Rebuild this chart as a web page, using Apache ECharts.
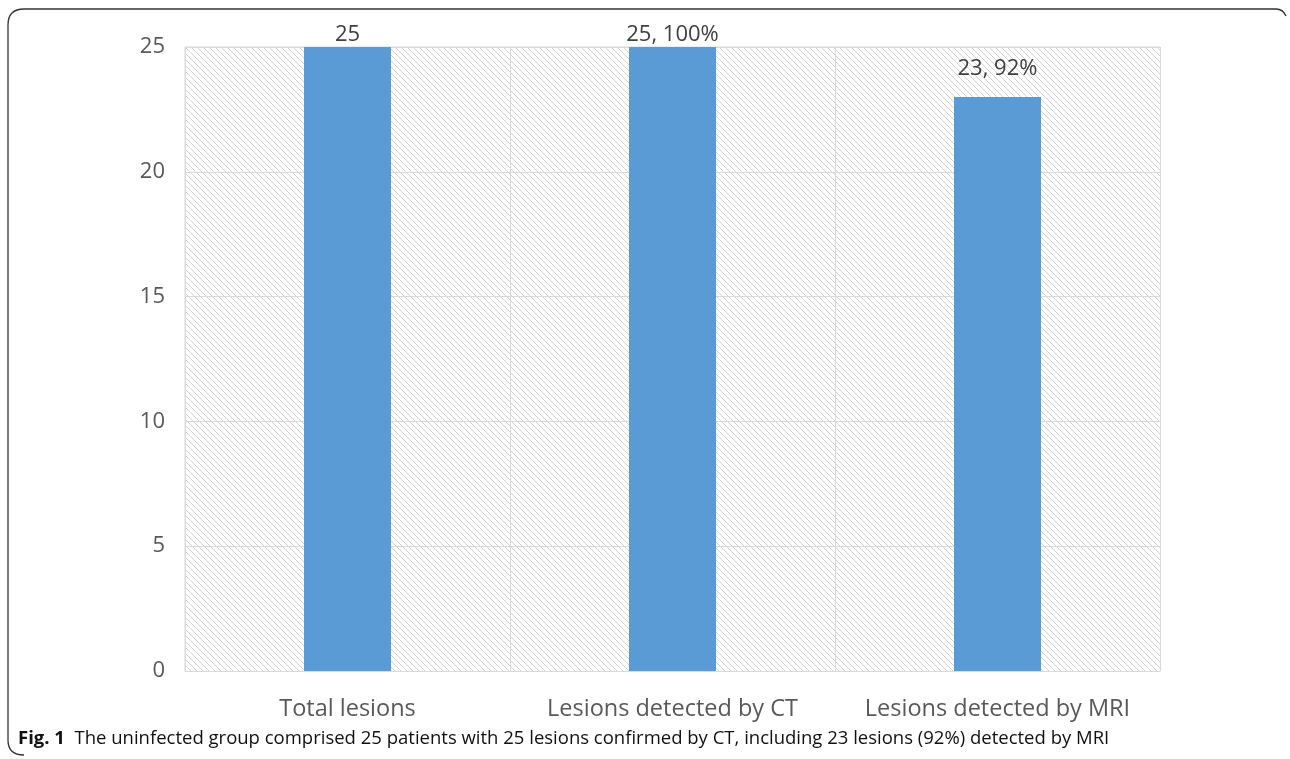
<!DOCTYPE html>
<html><head><meta charset="utf-8">
<script src="https://cdn.jsdelivr.net/npm/echarts@6/dist/echarts.min.js"></script>
<style>html,body{margin:0;padding:0;background:#fff}#c{width:1290px;height:759px}</style>
</head><body><div id="c"></div>
<script>
const categories = ["Total lesions", "Lesions detected by CT", "Lesions detected by MRI"];
const values = [25, 25, 23];
const barLabels = ["25", "25, 100%", "23, 92%"];
const labelGaps = [1, 1, 17];
const yTicks = [0, 5, 10, 15, 20, 25];

// hatch pattern
const pc = document.createElement('canvas');
pc.width = 6; pc.height = 6;
const g = pc.getContext('2d');
g.fillStyle = '#ffffff'; g.fillRect(0,0,6,6);
g.strokeStyle = '#d2d2d2'; g.lineWidth = 1;
g.beginPath();
for (let k=-6;k<=12;k+=6){ g.moveTo(k,0); g.lineTo(k+6,6); }
g.stroke();

const bs = {stroke:'#333',lineWidth:1.3,fill:null};
const chart = echarts.init(document.getElementById('c'));
chart.setOption({
  animation:false,
  backgroundColor:'#fff',
  grid:{left:185,right:130,top:47,bottom:88,show:true,borderColor:'#d9d9d9',borderWidth:1},
  xAxis:{type:'category',data:categories,
    axisLine:{lineStyle:{color:'#d9d9d9'}},axisTick:{show:false},
    splitLine:{show:true,lineStyle:{color:'#d9d9d9'}},
    axisLabel:{color:'#595959',fontSize:23.5,margin:26,fontFamily:'Open Sans',interval:0}},
  yAxis:{type:'value',min:yTicks[0],max:yTicks[yTicks.length-1],interval:5,
    axisLine:{show:false},axisTick:{show:false},
    splitLine:{lineStyle:{color:'#d9d9d9'}},
    splitArea:{show:true,areaStyle:{color:[{image:pc,repeat:'repeat'}]}},
    axisLabel:{color:'#595959',fontSize:22,margin:20,fontFamily:'Open Sans'}},
  series:[{type:'bar',barWidth:87,
    itemStyle:{color:'#5B9BD5'},
    data:values.map((v,i)=>({value:v,label:{show:true,position:'top',distance:labelGaps[i],
      formatter:barLabels[i],color:'#404040',fontSize:22,fontFamily:'Open Sans'}}))}],
  graphic:[
    {type:'line',shape:{x1:8,y1:25,x2:8,y2:740},style:bs},
    {type:'line',shape:{x1:24,y1:9,x2:1276,y2:9},style:bs},
    {type:'bezierCurve',shape:{x1:8,y1:25,x2:24,y2:9,cpx1:8,cpy1:9},style:bs},
    {type:'bezierCurve',shape:{x1:8,y1:740,x2:24,y2:755,cpx1:8,cpy1:755},style:bs},
    {type:'bezierCurve',shape:{x1:1276,y1:9,x2:1286,y2:16,cpx1:1283,cpy1:9},style:bs},
    {type:'text',left:18,top:729,style:{rich:{b:{fontWeight:'bold',fontSize:18.5,fontFamily:'Open Sans',fill:'#111'},n:{fontSize:18.5,fontFamily:'Open Sans',fill:'#111'}},
      text:'{b|Fig. 1}{n|  The uninfected group comprised 25 patients with 25 lesions confirmed by CT, including 23 lesions (92%) detected by MRI}'}}
  ]
});
</script></body></html>
